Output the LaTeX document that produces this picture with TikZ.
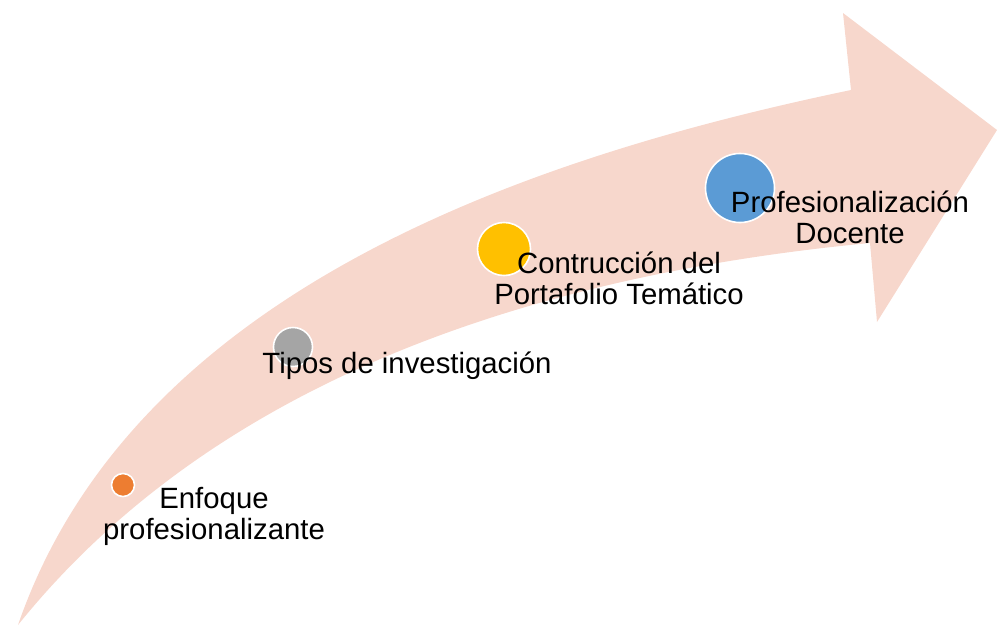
\documentclass[tikz,border=0pt]{standalone}
\usepackage{fontspec}
\setmainfont{Liberation Sans}
\definecolor{arrowfill}{HTML}{F7D7CC}
\definecolor{dotorange}{HTML}{ED7D31}
\definecolor{dotgray}{HTML}{A5A5A5}
\definecolor{dotyellow}{HTML}{FFC000}
\definecolor{dotblue}{HTML}{5B9BD5}
\begin{document}
\begin{tikzpicture}[x=0.01cm,y=-0.01cm,
  dot/.style={circle,draw=white,line width=0.45pt,inner sep=0pt},
  lbl/.style={align=center,inner sep=0pt,anchor=base,text=black,
    font=\fontsize{8.34}{8.7}\selectfont}]
\useasboundingbox (0,0) rectangle (997,627);
\fill[arrowfill] (18,625) .. controls (135,286) and (539,155) .. (851,90)
  -- (843,13) -- (997,130) -- (877,322) -- (870,243)
  .. controls (555,273) and (223,370) .. (18,625) -- cycle;
\node[dot,fill=dotorange,minimum size=0.23cm] (d1) at (123,485) {};
\node[dot,fill=dotgray,minimum size=0.39cm] (d2) at (293,347) {};
\node[dot,fill=dotyellow,minimum size=0.53cm] (d3) at (504,249) {};
\node[dot,fill=dotblue,minimum size=0.69cm] (d4) at (740,188) {};
\node[lbl] (t1) at (214,539) {Enfoque\\profesionalizante};
\node[lbl] (t2) at (407,373) {Tipos de investigación};
\node[lbl] (t3) at (619,304) {Contrucción del\\Portafolio Temático};
\node[lbl] (t4) at (850,243) {Profesionalización\\Docente};
\end{tikzpicture}
\end{document}
